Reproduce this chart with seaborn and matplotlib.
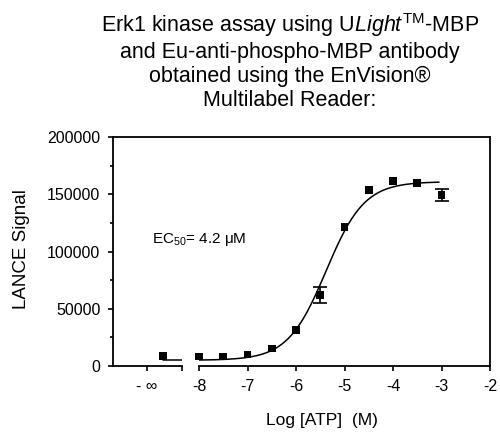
import numpy as np
import pandas as pd
import matplotlib
matplotlib.use('Agg')
import matplotlib.pyplot as plt
from matplotlib.lines import Line2D
from matplotlib.ticker import MultipleLocator
import seaborn as sns


# Data
log_atp = [-8, -7.5, -7, -6.5, -6, -5.5, -5, -4.5, -4, -3.5, -3]
signal = [8300, 8300, 10000, 15300, 31800, 61700, 121600, 153800, 161700, 160000, 149500]
sem = [0, 0, 0, 0, 0, 7000, 0, 0, 0, 0, 5000]

# the "- inf" (no ATP) point sits on the separate left segment
zero_pos = -9.67
zero_signal = 8500

# sigmoidal fit parameters (EC50 = 4.2 uM)
fit_bottom = 5000
fit_top = 161000
fit_logec50 = -5.38
fit_hill = 1.1

right_ticks = [-8, -7, -6, -5, -4, -3, -2]
right_labels = ['-8', '-7', '-6', '-5', '-4', '-3', '-2']

title = ('Erk1 kinase assay using U$\\mathit{Light}^{\\mathrm{TM}}$-MBP\n'
         'and Eu-anti-phospho-MBP antibody\n'
         'obtained using the EnVision®\n'
         'Multilabel Reader:')

# Style
sns.set_style('ticks')
plt.rcParams['font.family'] = ['Liberation Sans', 'DejaVu Sans']
plt.rcParams['mathtext.fontset'] = 'custom'
plt.rcParams['mathtext.rm'] = 'Liberation Sans'
plt.rcParams['mathtext.it'] = 'Liberation Sans:italic'
plt.rcParams['mathtext.bf'] = 'Liberation Sans:bold'
plt.rcParams['axes.unicode_minus'] = False
plt.rcParams['text.color'] = 'black'

fig = plt.figure(figsize=(5, 4.32), dpi=100)
ax_l = fig.add_axes([113 / 500, 66 / 432, 69 / 500, 229 / 432])
ax_r = fig.add_axes([199 / 500, 66 / 432, 291 / 500, 229 / 432], sharey=ax_l)

df = pd.DataFrame({'log_atp': log_atp, 'signal': signal, 'sem': sem})

# fitted curve
x_fit = np.linspace(-8, -3.05, 300)
y_fit = fit_bottom + (fit_top - fit_bottom) / (1 + 10 ** ((fit_logec50 - x_fit) * fit_hill))
sns.lineplot(x=x_fit, y=y_fit, ax=ax_r, color='black', lw=1.1)

# error bars (only where visible) + points
err = df[df['sem'] > 0]
ax_r.errorbar(err['log_atp'], err['signal'], yerr=err['sem'], fmt='none',
              ecolor='black', elinewidth=1.2, capsize=5, capthick=1.2)
sns.scatterplot(data=df, x='log_atp', y='signal', ax=ax_r, marker='s', s=32,
                color='black', edgecolor='none', clip_on=False, zorder=3)

# left (no ATP) segment
ax_l.plot([zero_pos, -9.28], [fit_bottom, fit_bottom], color='black', lw=1.1)
sns.scatterplot(x=[zero_pos], y=[zero_signal], ax=ax_l, marker='s', s=32,
                color='black', edgecolor='none', clip_on=False, zorder=3)

# axes limits and ticks
ax_l.set_ylim(0, 200000)
ax_l.set_xlim(-10.7, -9.28)
ax_r.set_xlim(-8, -2)
ax_l.yaxis.set_major_locator(MultipleLocator(50000))
ax_l.yaxis.set_minor_locator(MultipleLocator(25000))
ax_l.set_yticklabels([f'{int(v)}' for v in ax_l.get_yticks()])
ax_l.set_xticks([-10, -9.28])
ax_l.set_xticklabels(['- ∞', ''])
ax_r.set_xticks(right_ticks)
ax_r.set_xticklabels(right_labels)

for ax in (ax_l, ax_r):
    ax.set_xlabel('')
    ax.set_ylabel('')
    ax.tick_params(axis='both', which='major', length=3.6, width=1.2,
                   labelsize=11.5, color='black', labelcolor='black')
    ax.tick_params(axis='y', which='minor', length=2.4, width=1.2, color='black')
    ax.tick_params(axis='x', pad=6)
    ax.tick_params(axis='y', pad=5.5)
    ax.spines['top'].set_visible(False)
    for s in ax.spines.values():
        s.set_linewidth(1.3)
        s.set_color('black')
    ax.set_facecolor('none')

ax_l.spines['right'].set_visible(False)
ax_r.spines['left'].set_visible(False)
ax_r.tick_params(axis='y', which='both', left=False, labelleft=False)

# continuous top frame line across the axis break
fig.add_artist(Line2D([113 / 500, 490 / 500], [1 - 137 / 432, 1 - 137 / 432],
                      transform=fig.transFigure, color='black', lw=1.3,
                      solid_capstyle='projecting'))

# texts
fig.text(290 / 500, 1 - 61 / 432, title, ha='center', va='center',
         fontsize=15.5, linespacing=1.2, multialignment='center')
fig.text(152 / 500, 1 - 240 / 432, 'EC$_{50}$= 4.2 μM', fontsize=11, va='center')
fig.text(22 / 500, 1 - 249 / 432, 'LANCE Signal', rotation=90, ha='center',
         va='center', fontsize=13.5)
fig.text(322 / 500, 1 - 420 / 432, 'Log [ATP]  (M)', ha='center', va='center',
         fontsize=12.5)

fig.savefig('out.png', dpi=100)
